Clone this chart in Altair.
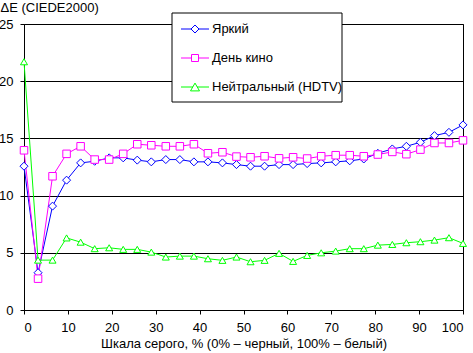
import altair as alt
import pandas as pd

FONT = "Liberation Sans"

names = ["Яркий", "День кино", "Нейтральный (HDTV)"]
colors = ["#0000FF", "#FF00FF", "#00FF00"]
shapes = ["diamond", "square", "triangle-up"]
sizes = [64, 49, 81]

xs = [0, 3.2, 6.5, 9.7, 12.9, 16.1, 19.4, 22.6, 25.8, 29.0, 32.3, 35.5, 38.7, 41.9,
      45.2, 48.4, 51.6, 54.8, 58.1, 61.3, 64.5, 67.7, 71.0, 74.2, 77.4, 80.6, 83.9,
      87.1, 90.3, 93.5, 96.8, 100]

bright = [12.57, 3.26, 9.08, 11.35, 12.86, 13.0, 13.3, 13.3, 13.1, 12.95,
          13.15, 13.15, 12.95, 12.95, 12.86, 12.71, 12.57, 12.57, 12.71, 12.71,
          12.8, 12.86, 12.95, 13.04, 13.2, 13.7, 14.08, 14.31, 14.66, 15.24, 15.53, 16.18]
cinema = [13.96, 2.74, 11.69, 13.65, 14.31, 13.15, 13.15, 13.65, 14.49, 14.4,
          14.31, 14.31, 14.49, 13.7, 13.79, 13.41, 13.35, 13.44, 13.26, 13.35,
          13.24, 13.44, 13.53, 13.53, 13.44, 13.59, 13.82, 13.62, 14.02, 14.6, 14.6, 14.83]
neutral = [21.7, 4.36, 4.36, 6.3, 5.93, 5.36, 5.44, 5.3, 5.3, 5.06,
           4.63, 4.71, 4.71, 4.48, 4.34, 4.63, 4.22, 4.34, 4.95, 4.25,
           4.77, 5.0, 5.15, 5.36, 5.36, 5.67, 5.73, 5.88, 5.97, 6.11, 6.32, 5.82]

x_ticks = [0, 10, 20, 30, 40, 50, 60, 70, 80, 90, 100]
y_ticks = [0, 5, 10, 15, 20, 25]

x_title = "Шкала серого, % (0% – черный, 100% – белый)"
y_title = "ΔE (CIEDE2000)"

rows = []
for name, vals in zip(names, [bright, cinema, neutral]):
    for x, v in zip(xs, vals):
        rows.append({"x": x, "value": v, "series": name})
df = pd.DataFrame(rows)

x_enc = alt.X("x:Q", scale=alt.Scale(domain=[0, 100], nice=False),
              axis=alt.Axis(values=x_ticks, title=x_title, grid=False, tickSize=4,
                            labelPadding=7, titlePadding=3, labelFontSize=13,
                            titleFontSize=13, titleFontWeight="normal",
                            labelFont=FONT, titleFont=FONT, labelColor="black",
                            titleColor="black", domainColor="black", tickColor="black"))
y_enc = alt.Y("value:Q", scale=alt.Scale(domain=[0, 25], nice=False),
              axis=alt.Axis(values=y_ticks, title=y_title, grid=True, gridColor="black",
                            gridWidth=1, tickSize=4, labelPadding=7, labelFontSize=13,
                            titleFontSize=13, titleFontWeight="normal", labelFont=FONT,
                            titleFont=FONT, labelColor="black", titleColor="black",
                            domainColor="black", tickColor="black", titleAngle=0,
                            titleAlign="left", titleBaseline="top", titleX=-24, titleY=-23))

color_scale = alt.Scale(domain=names, range=colors)

lines = alt.Chart(df).mark_line(strokeWidth=1).encode(
    x=x_enc, y=y_enc,
    color=alt.Color("series:N", scale=color_scale, legend=None),
)
points = alt.Chart(df).mark_point(opacity=1, strokeWidth=1, filled=False).encode(
    x="x:Q", y="value:Q",
    stroke=alt.Stroke("series:N", scale=color_scale, legend=None),
    fill=alt.value("white"),
    shape=alt.Shape("series:N", scale=alt.Scale(domain=names, range=shapes), legend=None),
    size=alt.Size("series:N", scale=alt.Scale(domain=names, range=sizes), legend=None),
)

layers = [lines, points]

box = alt.Chart(pd.DataFrame({"a": [0]})).mark_rect(
    fill="white", stroke="black", strokeWidth=1
).encode(x=alt.value(148), x2=alt.value(318), y=alt.value(-11), y2=alt.value(78))
layers.append(box)

for i, name in enumerate(names):
    d = pd.DataFrame({"series": [name]})
    yy = 5 + 29 * i
    layers.append(alt.Chart(d).mark_rule(color=colors[i], strokeWidth=1).encode(
        x=alt.value(157), x2=alt.value(185), y=alt.value(yy)))
    layers.append(alt.Chart(d).mark_point(shape=shapes[i], size=sizes[i], stroke=colors[i],
                                          fill="white", opacity=1, strokeWidth=1).encode(
        x=alt.value(171), y=alt.value(yy)))
    layers.append(alt.Chart(d).mark_text(align="left", baseline="middle", font=FONT,
                                         fontSize=13, color="black").encode(
        x=alt.value(188), y=alt.value(yy), text="series:N"))

chart = alt.layer(*layers).properties(
    width=439, height=286,
    padding={"left": 24, "top": 24, "right": 10, "bottom": 43},
    autosize=alt.AutoSizeParams(type="none"),
    background="white",
).configure_view(stroke="black", strokeWidth=1)

chart.save("out.html", embed_options={"renderer": "svg", "actions": False})
